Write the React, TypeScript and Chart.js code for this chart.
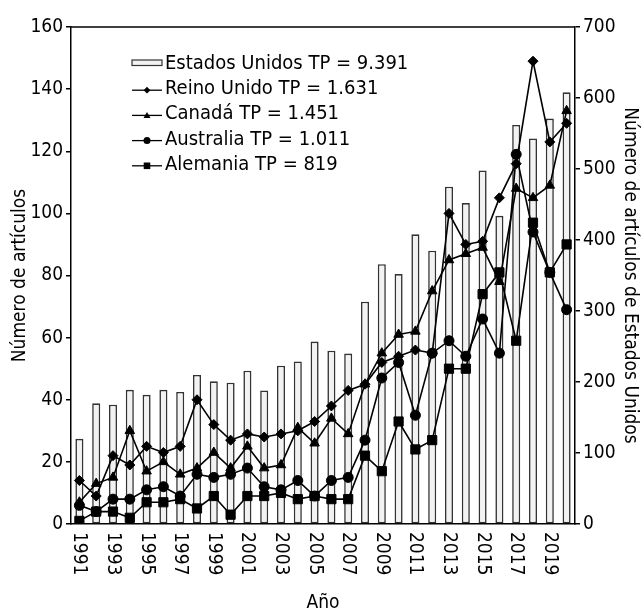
import React, { useEffect, useRef } from 'react';
import { Chart, registerables } from 'chart.js';

Chart.register(...registerables);

const FONT = '"DejaVu Sans Condensed", "DejaVu Sans", sans-serif';

const years = [
  '1991', '1992', '1993', '1994', '1995', '1996', '1997', '1998', '1999', '2000',
  '2001', '2002', '2003', '2004', '2005', '2006', '2007', '2008', '2009', '2010',
  '2011', '2012', '2013', '2014', '2015', '2016', '2017', '2018', '2019', '2020',
];

const estadosUnidos = [120, 170, 168, 189, 182, 189, 186, 210, 201, 199, 216, 188, 223, 229, 257, 244, 240, 313, 366, 352, 408, 385, 475, 452, 498, 434, 562, 543, 571, 608];
const reinoUnido = [14, 9, 22, 19, 25, 23, 25, 40, 32, 27, 29, 28, 29, 30, 33, 38, 43, 45, 52, 54, 56, 55, 100, 90, 91, 105, 116, 149, 123, 129];
const canada = [7, 13, 15, 30, 17, 20, 16, 18, 23, 18, 25, 18, 19, 31, 26, 34, 29, 45, 55, 61, 62, 75, 85, 87, 89, 78, 108, 105, 109, 133];
const australia = [6, 4, 8, 8, 11, 12, 9, 16, 15, 16, 18, 12, 11, 14, 9, 14, 15, 27, 47, 52, 35, 55, 59, 54, 66, 55, 119, 94, 81, 69];
const alemania = [1, 4, 4, 2, 7, 7, 8, 5, 9, 3, 9, 9, 10, 8, 9, 8, 8, 22, 17, 33, 24, 27, 50, 50, 74, 81, 59, 97, 81, 90];

const legendLabels = [
  'Estados Unidos TP = 9.391',
  'Reino Unido TP = 1.631',
  'Canadá TP = 1.451',
  'Australia TP = 1.011',
  'Alemania TP = 819',
];
const legendMarkers = ['bar', 'diamond', 'triangle', 'circle', 'square'];

const leftAxis = { min: 0, max: 160, step: 20, title: 'Número de artículos' };
const rightAxis = { min: 0, max: 700, step: 100, title: 'Número de artículos de Estados Unidos' };
const xTitle = 'Año';

function drawMarker(ctx: CanvasRenderingContext2D, kind: string, x: number, y: number, r: number) {
  ctx.beginPath();
  if (kind === 'diamond') {
    ctx.moveTo(x, y - r);
    ctx.lineTo(x + r, y);
    ctx.lineTo(x, y + r);
    ctx.lineTo(x - r, y);
    ctx.closePath();
  } else if (kind === 'triangle') {
    ctx.moveTo(x, y - r);
    ctx.lineTo(x + r, y + r * 0.75);
    ctx.lineTo(x - r, y + r * 0.75);
    ctx.closePath();
  } else if (kind === 'circle') {
    ctx.arc(x, y, r, 0, Math.PI * 2);
  } else {
    ctx.rect(x - r, y - r, 2 * r, 2 * r);
  }
  ctx.fill();
}

const customPlugin = {
  id: 'customDecor',
  afterDraw(chart: any) {
    const ctx: CanvasRenderingContext2D = chart.ctx;
    const area = chart.chartArea;
    const xs = chart.scales.x;
    ctx.save();
    // top frame line
    ctx.strokeStyle = '#000';
    ctx.lineWidth = 1.5;
    ctx.beginPath();
    ctx.moveTo(area.left, area.top);
    ctx.lineTo(area.right, area.top);
    ctx.stroke();

    // rotated x labels (reading top to bottom)
    ctx.fillStyle = '#000';
    ctx.font = `19px ${FONT}`;
    ctx.textAlign = 'left';
    ctx.textBaseline = 'middle';
    years.forEach((yr, i) => {
      if (i % 2 !== 0) return;
      const px = xs.getPixelForValue(i);
      ctx.save();
      ctx.translate(px, area.bottom + 8);
      ctx.rotate(Math.PI / 2);
      ctx.fillText(yr, 0, 0);
      ctx.restore();
    });

    // legend
    const symL = 132;
    const symR = 162;
    const textX = 165;
    const baseline0 = 69;
    const rowGap = 25.2;
    ctx.font = `20px ${FONT}`;
    ctx.textBaseline = 'alphabetic';
    legendLabels.forEach((lab, i) => {
      const bl = baseline0 + i * rowGap;
      const kind = legendMarkers[i];
      if (kind === 'bar') {
        ctx.fillStyle = '#f2f2f2';
        ctx.fillRect(symL, bl - 9, symR - symL, 5.5);
        ctx.strokeStyle = '#333';
        ctx.lineWidth = 1.2;
        ctx.strokeRect(symL, bl - 9, symR - symL, 5.5);
      } else {
        const ly = bl - 4;
        ctx.strokeStyle = '#000';
        ctx.lineWidth = 1.3;
        ctx.beginPath();
        ctx.moveTo(symL, ly);
        ctx.lineTo(symR, ly);
        ctx.stroke();
        ctx.fillStyle = '#000';
        const r = kind === 'square' ? 3.3 : kind === 'diamond' ? 3.4 : 3.5;
        drawMarker(ctx, kind, (symL + symR) / 2, ly, r);
      }
      ctx.fillStyle = '#000';
      ctx.fillText(lab, textX, bl);
    });
    ctx.restore();
  },
};

export default function App() {
  const canvasRef = useRef<HTMLCanvasElement | null>(null);

  useEffect(() => {
    document.body.style.margin = '0';
    const canvas = canvasRef.current;
    if (!canvas) return;
    Chart.defaults.font.family = FONT;
    Chart.defaults.color = '#000';

    const lineDs = (label: string, data: number[], style: string, radius: number, order: number) => ({
      type: 'line' as const,
      label,
      data,
      yAxisID: 'y',
      borderColor: '#000',
      backgroundColor: '#000',
      borderWidth: 1.6,
      pointStyle: style,
      pointRadius: radius,
      pointHoverRadius: radius,
      pointBackgroundColor: '#000',
      pointBorderColor: '#000',
      pointBorderWidth: 1,
      tension: 0,
      order,
    });

    const chart = new Chart(canvas, {
      type: 'bar',
      data: {
        labels: years,
        datasets: [
          lineDs(legendLabels[1], reinoUnido, 'rectRot', 5, 1),
          lineDs(legendLabels[2], canada, 'triangle', 5.5, 2),
          lineDs(legendLabels[3], australia, 'circle', 5, 3),
          lineDs(legendLabels[4], alemania, 'rect', 6.5, 4),
          {
            type: 'bar' as const,
            label: legendLabels[0],
            data: estadosUnidos,
            yAxisID: 'y2',
            backgroundColor: '#f2f2f2',
            borderColor: '#333',
            borderWidth: 1.6,
            borderSkipped: false,
            barPercentage: 0.48,
            categoryPercentage: 1,
            order: 10,
          } as any,
        ],
      },
      options: {
        animation: false,
        responsive: true,
        maintainAspectRatio: false,
        layout: { padding: { top: 27, left: 0, right: 0, bottom: 0 } },
        plugins: {
          legend: { display: false },
          tooltip: { enabled: false },
        },
        scales: {
          x: {
            type: 'category',
            grid: { display: false, drawTicks: false },
            border: { display: true, color: '#000', width: 1.5 },
            ticks: { display: false },
            title: {
              display: true,
              text: xTitle,
              color: '#000',
              font: { size: 19, family: FONT },
              padding: { top: 0, bottom: 1 },
            },
            afterFit: (s: any) => {
              s.height = 91;
            },
          },
          y: {
            type: 'linear',
            position: 'left',
            min: leftAxis.min,
            max: leftAxis.max,
            ticks: { stepSize: leftAxis.step, color: '#000', font: { size: 19, family: FONT }, padding: 3 },
            grid: { drawOnChartArea: false, drawTicks: true, tickLength: 5, color: '#000', lineWidth: 1.5 },
            border: { display: true, color: '#000', width: 1.5 },
            title: {
              display: true,
              text: leftAxis.title,
              color: '#000',
              font: { size: 19, family: FONT },
              padding: { top: 9, bottom: 0 },
            },
            afterFit: (s: any) => {
              s.width = 71;
            },
          },
          y2: {
            type: 'linear',
            position: 'right',
            min: rightAxis.min,
            max: rightAxis.max,
            ticks: { stepSize: rightAxis.step, color: '#000', font: { size: 19, family: FONT }, padding: 3 },
            grid: { drawOnChartArea: false, drawTicks: true, tickLength: 5, color: '#000', lineWidth: 1.5 },
            border: { display: true, color: '#000', width: 1.5 },
            title: {
              display: true,
              text: rightAxis.title,
              color: '#000',
              font: { size: 19, family: FONT },
              padding: { top: 2, bottom: 0 },
            },
            afterFit: (s: any) => {
              s.width = 68;
            },
          },
        },
      } as any,
      plugins: [customPlugin],
    });

    return () => {
      chart.destroy();
    };
  }, []);

  return (
    <div style={{ position: 'fixed', left: 0, top: 0, width: 643, height: 615 }}>
      <canvas ref={canvasRef} />
    </div>
  );
}
